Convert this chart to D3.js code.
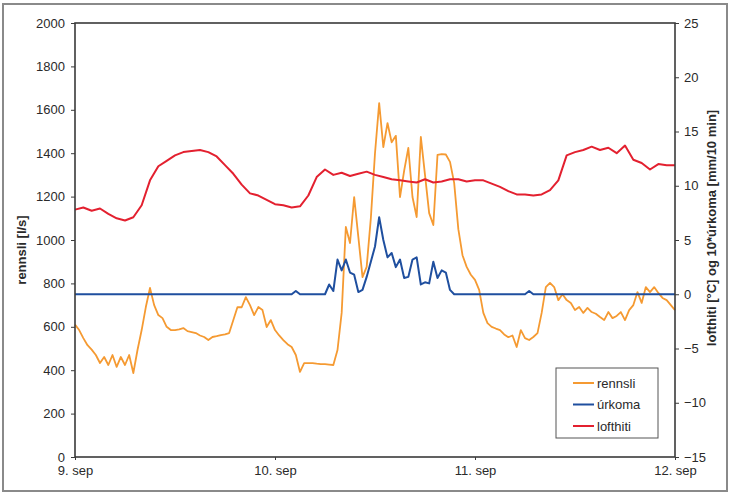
<!DOCTYPE html>
<html>
<head>
<meta charset="utf-8">
<script src="https://cdn.jsdelivr.net/npm/d3@7"></script>
<style>
  body { margin: 0; background: #fff; }
  svg { display: block; font-family: "Liberation Sans", Arial, sans-serif; }
</style>
</head>
<body>
<svg id="chart" width="731" height="494"></svg>
<script>
// rennsli [l/s], one value every 30 min from 9. sep 00:00
const rennsli = [
  610, 585, 548, 515, 495, 470, 433, 461, 424, 470,
  415, 461, 424, 470, 387, 493, 585, 691, 779, 700,
  654, 640, 600, 585, 585, 588, 594, 580, 576, 571,
  560, 553, 539, 553, 557, 562, 565, 571, 631, 691,
  690, 737, 700, 654, 691, 677, 599, 631, 585, 560,
  539, 520, 507, 470, 392, 433, 433, 433, 430, 428,
  428, 426, 424, 493, 664, 1060, 986, 1198, 1014, 829,
  876, 1100, 1400, 1631, 1428, 1539, 1450, 1480, 1198, 1320,
  1424, 1198, 1106, 1475, 1300, 1124, 1069, 1392, 1396, 1394,
  1360, 1263, 1050, 930, 876, 840, 816, 770, 664, 617,
  600, 592, 585, 565, 552, 560, 507, 585, 548, 539,
  553, 571, 664, 783, 802, 783, 723, 750, 723, 710,
  677, 691, 664, 687, 668, 660, 645, 631, 668, 640,
  650, 668, 631, 677, 700, 760, 710, 783, 760, 783,
  756, 733, 723, 700, 677
]

// 10*úrkoma [mm/10 min], every 30 min
const urkoma = [
  0, 0, 0, 0, 0, 0, 0, 0, 0, 0,
  0, 0, 0, 0, 0, 0, 0, 0, 0, 0,
  0, 0, 0, 0, 0, 0, 0, 0, 0, 0,
  0, 0, 0, 0, 0, 0, 0, 0, 0, 0,
  0, 0, 0, 0, 0, 0, 0, 0, 0, 0,
  0, 0, 0, 0.3, 0, 0, 0, 0, 0, 0,
  0, 0.9, 0.3, 3.2, 2.2, 3.2, 2.0, 1.8, 0.2, 0.4,
  1.6, 3.0, 4.4, 7.1, 5.0, 3.4, 3.8, 2.5, 3.2, 1.5,
  1.6, 3.2, 3.4, 0.9, 1.1, 1.0, 3.0, 1.5, 2.2, 2.0,
  0.4, 0, 0, 0, 0, 0, 0, 0, 0, 0,
  0, 0, 0, 0, 0, 0, 0, 0, 0, 0.3,
  0, 0, 0, 0, 0, 0, 0, 0, 0, 0,
  0, 0, 0, 0, 0, 0, 0, 0, 0, 0,
  0, 0, 0, 0, 0, 0, 0, 0, 0, 0,
  0, 0, 0, 0, 0
]

// lofthiti [°C], hourly
const lofthiti = [
  7.8, 8.0, 7.7, 7.9, 7.4, 7.0, 6.8, 7.1, 8.2, 10.5,
  11.8, 12.3, 12.8, 13.1, 13.2, 13.3, 13.1, 12.7, 11.9, 11.1,
  10.1, 9.3, 9.1, 8.7, 8.3, 8.2, 8.0, 8.1, 9.1, 10.8,
  11.5, 11.0, 11.2, 10.9, 11.1, 11.3, 11.0, 10.8, 10.6, 10.5,
  10.4, 10.3, 10.6, 10.3, 10.4, 10.6, 10.6, 10.4, 10.5, 10.5,
  10.2, 9.9, 9.5, 9.2, 9.2, 9.1, 9.2, 9.6, 10.5, 12.8,
  13.1, 13.3, 13.6, 13.3, 13.5, 13.0, 13.7, 12.4, 12.1, 11.5,
  12.0, 11.9, 11.9
]

const leftTicks = [0, 200, 400, 600, 800, 1000, 1200, 1400, 1600, 1800, 2000]
const rightTicks = [-15, -10, -5, 0, 5, 10, 15, 20, 25]
const series = ["rennsli", "úrkoma", "lofthiti"]
const colors = ["#f59a32", "#1f4f9f", "#e3202f"]

const start = new Date(2009, 8, 9)
const end = new Date(2009, 8, 12)

const margin = { top: 23, right: 56, bottom: 37, left: 75 }
const width = 731
const height = 494

const svg = d3.select("#chart")

// outer border of the figure
svg.append("rect")
  .attr("x", 3).attr("y", 4)
  .attr("width", 724).attr("height", 487)
  .attr("fill", "none")
  .attr("stroke", "#8a8a8a")
  .attr("stroke-width", 2)

const x = d3.scaleTime().domain([start, end]).range([margin.left, width - margin.right])
const yL = d3.scaleLinear().domain([0, 2000]).range([height - margin.bottom, margin.top])
const yR = d3.scaleLinear().domain([-15, 25]).range([height - margin.bottom, margin.top])

const halfHour = (i) => d3.timeMinute.offset(start, i * 30)
const hour = (i) => d3.timeHour.offset(start, i)

const flowLine = d3.line().x((d, i) => x(halfHour(i))).y((d) => yL(d))
const rainLine = d3.line().x((d, i) => x(halfHour(i))).y((d) => yR(d))
const tempLine = d3.line().x((d, i) => x(hour(i))).y((d) => yR(d))

const plot = svg.append("g")

plot.append("path").datum(rennsli)
  .attr("d", flowLine)
  .attr("fill", "none")
  .attr("stroke", colors[0])
  .attr("stroke-width", 1.8)
  .attr("stroke-linejoin", "round")

plot.append("path").datum(urkoma)
  .attr("d", rainLine)
  .attr("fill", "none")
  .attr("stroke", colors[1])
  .attr("stroke-width", 2)
  .attr("stroke-linejoin", "round")

plot.append("path").datum(lofthiti)
  .attr("d", tempLine)
  .attr("fill", "none")
  .attr("stroke", colors[2])
  .attr("stroke-width", 2)
  .attr("stroke-linejoin", "round")

// plot frame
svg.append("rect")
  .attr("x", margin.left).attr("y", margin.top)
  .attr("width", width - margin.left - margin.right)
  .attr("height", height - margin.top - margin.bottom)
  .attr("fill", "none")
  .attr("stroke", "#3a3a3a")
  .attr("stroke-width", 1.6)

const styleAxis = (g) => {
  g.select(".domain").remove()
  g.selectAll(".tick line").attr("stroke", "#3a3a3a").attr("stroke-width", 1)
  g.selectAll(".tick text")
    .attr("fill", "#2a2a2a")
    .style("font-size", "13px")
}

svg.append("g")
  .attr("transform", `translate(${margin.left},0)`)
  .call(d3.axisLeft(yL).tickValues(leftTicks).tickFormat(d3.format("d")).tickSize(4).tickPadding(6))
  .call(styleAxis)

svg.append("g")
  .attr("transform", `translate(${width - margin.right},0)`)
  .call(d3.axisRight(yR).tickValues(rightTicks).tickFormat(d3.format("d")).tickSize(4).tickPadding(5))
  .call(styleAxis)

svg.append("g")
  .attr("transform", `translate(0,${height - margin.bottom})`)
  .call(d3.axisBottom(x)
    .ticks(d3.timeDay.every(1))
    .tickSize(3)
    .tickPadding(6)
    .tickFormat((d) => `${d.getDate()}. sep`))
  .call(styleAxis)

// axis titles
svg.append("text")
  .attr("transform", `translate(26,250) rotate(-90)`)
  .attr("text-anchor", "middle")
  .attr("fill", "#2a2a2a")
  .style("font-size", "13px")
  .style("font-weight", "bold")
  .text("rennsli [l/s]")

svg.append("text")
  .attr("transform", `translate(716,228) rotate(-90)`)
  .attr("text-anchor", "middle")
  .attr("fill", "#2a2a2a")
  .style("font-size", "13px")
  .style("font-weight", "bold")
  .text("lofthiti [°C] og 10*úrkoma [mm/10 min]")

// legend
const legend = svg.append("g").attr("transform", "translate(556,368)")
legend.append("rect")
  .attr("width", 102).attr("height", 70)
  .attr("fill", "#fff")
  .attr("stroke", "#555")
  .attr("stroke-width", 1)

const item = legend.selectAll(".item")
  .data(series)
  .join("g")
  .attr("class", "item")
  .attr("transform", (d, i) => `translate(0,${15 + i * 21.5})`)

item.append("line")
  .attr("x1", 17).attr("x2", 38)
  .attr("stroke", (d, i) => colors[i])
  .attr("stroke-width", 2)

item.append("text")
  .attr("x", 41)
  .attr("dy", "0.35em")
  .attr("fill", "#2a2a2a")
  .style("font-size", "13px")
  .text((d) => d)
</script>
</body>
</html>
